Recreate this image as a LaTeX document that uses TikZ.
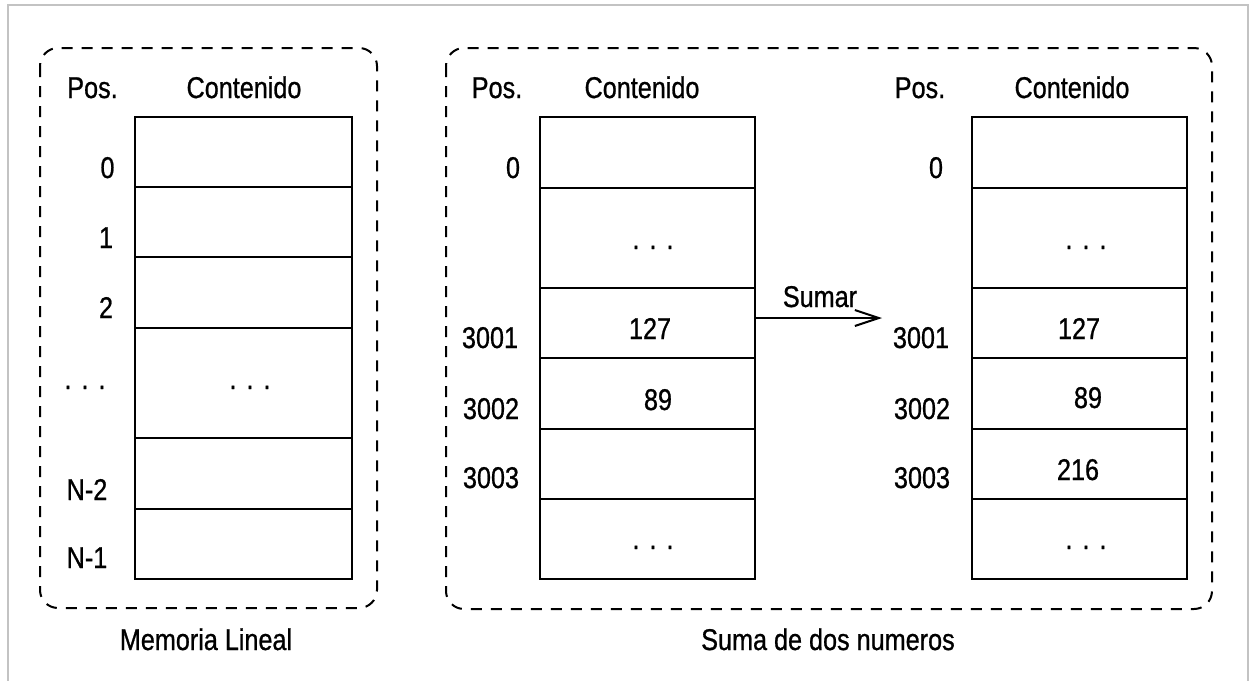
\documentclass[tikz,border=0pt]{standalone}
\usepackage{fontspec}
\setmainfont{Liberation Sans}[FakeStretch=0.84,FakeBold=0.8]
\usetikzlibrary{arrows.meta}
\newcommand\mydots{.\hspace{5pt}.\hspace{5pt}.}
\begin{document}
\begin{tikzpicture}[x=0.5pt,y=-0.5pt,
  txt/.style={anchor=base,inner sep=0pt,font=\fontsize{15pt}{18pt}\selectfont},
  cellL/.style={draw,line width=1pt,inner sep=0pt,minimum width=108.5pt},
  cellR/.style={draw,line width=1pt,inner sep=0pt,minimum width=107.5pt},
  dashbox/.style={line width=1pt,dash pattern=on 5.5pt off 4.5pt,rounded corners=9pt},
  frameline/.style={line width=0.8pt,draw={rgb,255:red,195;green,195;blue,195}},
  conn/.style={line width=1pt,-{Straight Barb[length=12pt,width=8pt,line width=1pt]}}]
\useasboundingbox (0,0) rectangle (1250,681);
\fill[white] (0,0) rectangle (1250,681);
% outer frame
\draw[frameline] (8,681) -- (8,5) -- (1248,5) -- (1248,681);
% dashed groups
\draw[dashbox] (40,48) rectangle (377,608);
\draw[dashbox] (446,48) rectangle (1212,609);
% ---------- left table ----------
\node[cellL,minimum height=35pt] (L0) at (243.5,152) {};
\node[cellL,minimum height=35pt] (L1) at (243.5,222) {};
\node[cellL,minimum height=35.25pt] (L2) at (243.5,292.25) {};
\node[cellL,minimum height=55.25pt] (Ld) at (243.5,382.75) {};
\node[cellL,minimum height=35.5pt] (Ln2) at (243.5,473.5) {};
\node[cellL,minimum height=35pt] (Ln1) at (243.5,544) {};
\node[txt] (Lpos) at (92.5,98) {Pos.};
\node[txt] (Lcont) at (244,98) {Contenido};
\node[txt] (Lp0) at (107.5,178) {0};
\node[txt] (Lp1) at (106,248) {1};
\node[txt] (Lp2) at (106,318) {2};
\node[txt] (Lpd) at (85,389) {\mydots};
\node[txt] (Lcd) at (250,389) {\mydots};
\node[txt] (Lpn2) at (87,500) {N-2};
\node[txt] (Lpn1) at (87,568) {N-1};
\node[txt] (Ltitle) at (206,650) {Memoria Lineal};
% ---------- middle table ----------
\node[cellR,minimum height=35.25pt] (M0) at (647.5,152.25) {};
\node[cellR,minimum height=50pt] (Md) at (647.5,237.5) {};
\node[cellR,minimum height=35.25pt] (M1) at (647.5,322.75) {};
\node[cellR,minimum height=35.5pt] (M2) at (647.5,393.5) {};
\node[cellR,minimum height=35pt] (M3) at (647.5,464) {};
\node[cellR,minimum height=40pt] (Me) at (647.5,539) {};
\node[txt] (Mpos) at (497,98) {Pos.};
\node[txt] (Mcont) at (642,98) {Contenido};
\node[txt] (Mp0) at (513,178) {0};
\node[txt] (Mp1) at (490,348) {3001};
\node[txt] (Mp2) at (491,419) {3002};
\node[txt] (Mp3) at (491,488) {3003};
\node[txt] (Mcd) at (653,249) {\mydots};
\node[txt] (Mc1) at (650,339) {127};
\node[txt] (Mc2) at (658,410) {89};
\node[txt] (Mce) at (653,549) {\mydots};
% ---------- right table ----------
\node[cellR,minimum height=35.25pt] (R0) at (1079,152.25) {};
\node[cellR,minimum height=50pt] (Rd) at (1079,237.5) {};
\node[cellR,minimum height=35.25pt] (R1) at (1079,322.75) {};
\node[cellR,minimum height=35.5pt] (R2) at (1079,393.5) {};
\node[cellR,minimum height=35pt] (R3) at (1079,464) {};
\node[cellR,minimum height=40pt] (Re) at (1079,539) {};
\node[txt] (Rpos) at (920,98) {Pos.};
\node[txt] (Rcont) at (1072,98) {Contenido};
\node[txt] (Rp0) at (936,178) {0};
\node[txt] (Rp1) at (921,348) {3001};
\node[txt] (Rp2) at (922,419) {3002};
\node[txt] (Rp3) at (922,488) {3003};
\node[txt] (Rcd) at (1086,249) {\mydots};
\node[txt] (Rc1) at (1079,339) {127};
\node[txt] (Rc2) at (1088,408) {89};
\node[txt] (Rc3) at (1078,480) {216};
\node[txt] (Rce) at (1086,549) {\mydots};
\node[txt] (Rtitle) at (828,650) {Suma de dos numeros};
% ---------- arrow ----------
\coordinate (aend) at (882,318);
\draw[conn] (M1.east |- aend) -- (aend);
\node[txt] (sumar) at (820,307) {Sumar};
\end{tikzpicture}
\end{document}
